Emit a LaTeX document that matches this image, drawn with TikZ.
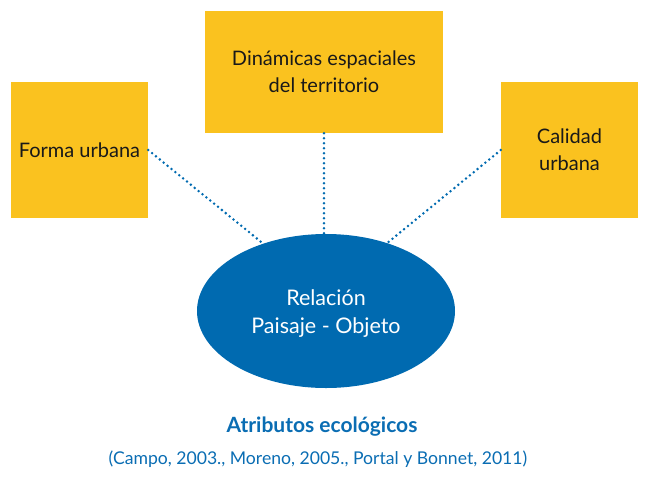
\documentclass[tikz,border=0pt]{standalone}
\usepackage{fontspec}
\setmainfont{Lato}
\usetikzlibrary{shapes.geometric}
\definecolor{boxyellow}{HTML}{FAC21F}
\definecolor{ellblue}{HTML}{006AB0}
\definecolor{txtblue}{HTML}{0A6DB3}
\begin{document}
\begin{tikzpicture}[x=1pt,y=-1pt,
  ybox/.style={fill=boxyellow,draw=none,inner sep=0pt,align=center,font=\fontsize{20}{27}\selectfont,text=black!90},
  dotline/.style={draw=ellblue,line width=2.8pt,line cap=round,dash pattern=on 0pt off 5pt},
  ell/.style={ellipse,fill=ellblue,draw=none,inner sep=0pt,minimum width=258pt,minimum height=154pt,align=center,text=white,font=\fontsize{21.5}{28}\selectfont}]
\useasboundingbox (0,0) rectangle (650,479);
\node[ybox,minimum width=137pt,minimum height=136pt] (fu) at (79.5,150) {Forma urbana};
\node[ybox,minimum width=238pt,minimum height=122pt] (de) at (324,72) {Dinámicas espaciales\\del territorio};
\node[ybox,minimum width=137pt,minimum height=136pt] (cu) at (569.5,150) {Calidad\\urbana};
\node[ell] (rel) at (326,311) {};
\node[text=white,align=center,font=\fontsize{21.5}{28}\selectfont] (reltxt) at (326,314) {Relación\\Paisaje - Objeto};
\draw[dotline] (fu.east) -- (rel.133);
\draw[dotline] (de.south) -- (de.south |- rel.north);
\draw[dotline] (cu.west) -- (rel.48);
\node[text=txtblue,font=\fontsize{21}{24}\bfseries\selectfont] (title) at (322,427) {Atributos ecológicos};
\node[text=txtblue,font=\fontsize{17.6}{22}\selectfont] (cite) at (318,459) {(Campo, 2003., Moreno, 2005., Portal y Bonnet, 2011)};
\end{tikzpicture}
\end{document}
